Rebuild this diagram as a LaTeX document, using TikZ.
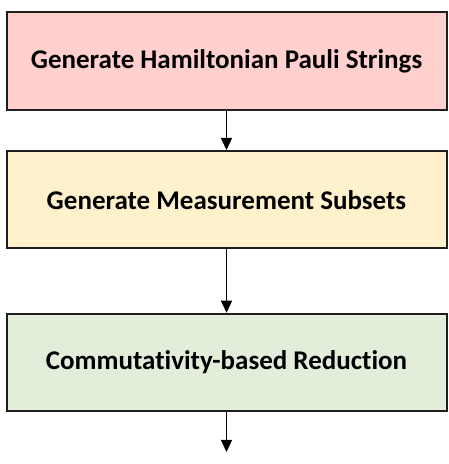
\documentclass[tikz,border=0pt]{standalone}
\usepackage{fontspec}
\setmainfont{Carlito}[Ligatures=NoCommon]
\usetikzlibrary{arrows.meta}
\definecolor{boxpink}{RGB}{255,208,206}
\definecolor{boxyellow}{RGB}{255,241,204}
\definecolor{boxgreen}{RGB}{226,238,218}
\definecolor{edge}{RGB}{30,30,30}
\tikzset{
  stagebox/.style={draw=edge, line width=2pt, minimum width=440pt, minimum height=97.5pt,
    inner sep=0pt, font=\bfseries\fontsize{27}{31}\selectfont, text=black},
  flow/.style={line width=1.3pt, draw=black, -{Triangle[length=12pt,width=11pt]}}
}
\begin{document}
\begin{tikzpicture}[x=1pt,y=1pt]
\useasboundingbox (0,0) rectangle (449,464);
\node[stagebox, fill=boxpink] (a) at (226.5,402.75) {Generate Hamiltonian Pauli Strings};
\node[stagebox, fill=boxyellow] (b) at (226.5,264.25) {Generate Measurement Subsets};
\node[stagebox, fill=boxgreen] (c) at (226.5,101.5) {Commutativity-based Reduction};
\coordinate (end) at (226.5,12);
\draw[flow] (a.south) -- (b.north);
\draw[flow] (b.south) -- (c.north);
\draw[flow] (c.south) -- (end);
\end{tikzpicture}
\end{document}
